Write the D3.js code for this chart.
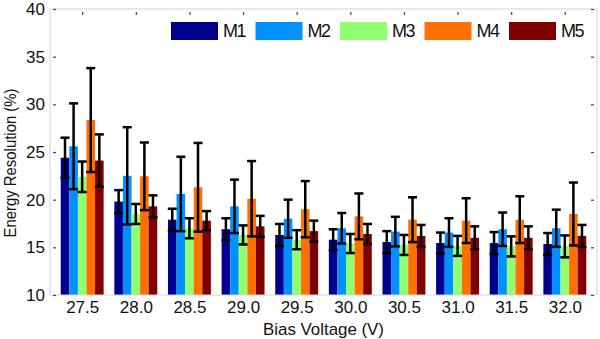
<!DOCTYPE html>
<html>
<head>
<meta charset="utf-8">
<script src="https://cdn.jsdelivr.net/npm/d3@7"></script>
<style>
  body { margin: 0; background: #fff; }
  text { font-family: "Liberation Sans", Arial, sans-serif; fill: #111; }
</style>
</head>
<body>
<svg id="chart"></svg>
<script>

/////////////////////////////////
// DATA
//////////////////////////////////

var voltages = ["27.5", "28.0", "28.5", "29.0", "29.5", "30.0", "30.5", "31.0", "31.5", "32.0"];
var modules = ["M1", "M2", "M3", "M4", "M5"];
var moduleColors = ["#00008f", "#0090ff", "#90ff70", "#ff7000", "#800000"];

// mean energy resolution (%) per module, one value per voltage
var m1 = [24.4, 19.8, 17.9, 16.9, 16.3, 15.8, 15.55, 15.45, 15.45, 15.35];
var m2 = [25.6, 22.5, 20.6, 19.3, 18.0, 17.0, 16.65, 16.55, 16.9, 17.0];
var m3 = [22.4, 18.5, 17.0, 16.3, 15.8, 15.4, 15.25, 15.15, 15.1, 15.1];
var m4 = [28.35, 22.45, 21.3, 20.1, 19.0, 18.25, 17.9, 17.8, 17.9, 18.5];
var m5 = [24.1, 19.3, 17.8, 17.2, 16.7, 16.4, 16.2, 16.0, 16.0, 16.2];

// half length of the error bars
var m1Err = [2.1, 1.2, 1.15, 1.15, 1.15, 1.1, 1.15, 1.1, 1.15, 1.15];
var m2Err = [4.5, 5.1, 3.9, 2.8, 2.0, 1.6, 1.55, 1.5, 1.75, 1.95];
var m3Err = [1.6, 1.05, 1.05, 1.0, 1.0, 1.0, 1.05, 1.05, 1.05, 1.15];
var m4Err = [5.45, 3.55, 4.65, 3.95, 2.95, 2.4, 2.35, 2.35, 2.45, 3.3];
var m5Err = [2.75, 1.15, 1.0, 1.1, 1.1, 1.05, 1.15, 1.2, 1.2, 1.15];

var yTicks = [10, 15, 20, 25, 30, 35, 40];

var means = [m1, m2, m3, m4, m5];
var errs = [m1Err, m2Err, m3Err, m4Err, m5Err];


/////////////////////////////////
// SET STATIC VARIABLES
//////////////////////////////////

var width = 600;
var height = 339;

var margin = { top: 9, right: 3, bottom: 44, left: 50 };

var chartWidth = width - margin.left - margin.right;
var chartHeight = height - margin.top - margin.bottom;

var svg = d3.select("#chart")
    .attr("width", width)
    .attr("height", height);

var g = svg.append("g")
    .attr("transform", "translate(" + margin.left + "," + margin.top + ")");


/////////////////////////////////
// MAKE SCALES
//////////////////////////////////

// groups sit like matlab bar() with xlim [0.4, 10.6]
var x = d3.scaleLinear()
    .domain([0.4, voltages.length + 0.6])
    .range([0, chartWidth]);

var groupWidth = x(1.8) - x(1);

var xSub = d3.scaleBand()
    .domain(modules)
    .range([-groupWidth / 2, groupWidth / 2]);

var y = d3.scaleLinear()
    .domain([10, 40])
    .range([chartHeight, 0]);


/////////////////////////////////
// DRAW BARS
//////////////////////////////////

var rows = [];
voltages.forEach(function(v, i) {
    modules.forEach(function(m, j) {
        rows.push({ pos: i + 1, module: m, color: moduleColors[j], value: means[j][i], err: errs[j][i] });
    });
});

g.selectAll(".bar")
    .data(rows)
    .enter().append("rect")
    .attr("class", "bar")
    .attr("x", function(d) { return x(d.pos) + xSub(d.module); })
    .attr("y", function(d) { return y(d.value); })
    .attr("width", xSub.bandwidth())
    .attr("height", function(d) { return chartHeight - y(d.value); })
    .attr("fill", function(d) { return d.color; });


/////////////////////////////////
// DRAW ERROR BARS
//////////////////////////////////

var errG = g.selectAll(".err")
    .data(rows)
    .enter().append("g")
    .attr("class", "err")
    .attr("transform", function(d) {
        return "translate(" + (x(d.pos) + xSub(d.module) + xSub.bandwidth() / 2) + ",0)";
    })
    .attr("stroke", "#000")
    .attr("stroke-width", 2.5);

errG.append("line")
    .attr("y1", function(d) { return y(d.value - d.err); })
    .attr("y2", function(d) { return y(d.value + d.err); });

errG.append("line")
    .attr("x1", -4.5).attr("x2", 4.5)
    .attr("y1", function(d) { return y(d.value + d.err); })
    .attr("y2", function(d) { return y(d.value + d.err); });

errG.append("line")
    .attr("x1", -4.5).attr("x2", 4.5)
    .attr("y1", function(d) { return y(d.value - d.err); })
    .attr("y2", function(d) { return y(d.value - d.err); });


/////////////////////////////////
// AXES + FRAME
//////////////////////////////////

g.append("rect")
    .attr("width", chartWidth)
    .attr("height", chartHeight)
    .attr("fill", "none")
    .attr("stroke", "#d4d4d4")
    .attr("stroke-width", 1);

var yAxis = g.append("g")
    .call(d3.axisLeft(y).tickValues(yTicks).tickSize(-3).tickPadding(5));
yAxis.select(".domain").remove();
yAxis.selectAll("line").attr("stroke", "#444").attr("stroke-width", 1.2).attr("transform", "translate(3,0)");
yAxis.selectAll("text")
    .attr("font-size", "17px")
    .attr("fill", "#111");

var yAxisRight = g.append("g")
    .attr("transform", "translate(" + chartWidth + ",0)")
    .call(d3.axisRight(y).tickValues(yTicks).tickSize(-3).tickFormat(""));
yAxisRight.select(".domain").remove();
yAxisRight.selectAll("line").attr("stroke", "#444").attr("stroke-width", 1.2).attr("transform", "translate(-3,0)");

var xTop = g.append("g")
    .call(d3.axisTop(x).tickValues(d3.range(1, voltages.length + 1)).tickSize(-3).tickFormat(""));
xTop.select(".domain").remove();
xTop.selectAll("line").attr("stroke", "#444").attr("stroke-width", 1.2).attr("transform", "translate(0,3)");

var xAxis = g.append("g")
    .attr("transform", "translate(0," + chartHeight + ")")
    .call(d3.axisBottom(x)
        .tickValues(d3.range(1, voltages.length + 1))
        .tickFormat(function(d) { return voltages[d - 1]; })
        .tickSize(0)
        .tickPadding(6));
xAxis.select(".domain").remove();
xAxis.selectAll("text")
    .attr("font-size", "17px")
    .attr("fill", "#111");


/////////////////////////////////
// AXIS TITLES
//////////////////////////////////

svg.append("text")
    .attr("x", margin.left + chartWidth / 2)
    .attr("y", 335)
    .attr("text-anchor", "middle")
    .attr("font-size", "17px")
    .attr("textLength", 121)
    .attr("lengthAdjust", "spacingAndGlyphs")
    .text("Bias Voltage (V)");

// the label in the picture is narrow and sits a bit low
svg.append("text")
    .attr("transform", "translate(16,163) rotate(-90)")
    .attr("text-anchor", "middle")
    .attr("font-size", "16.5px")
    .attr("textLength", 149)
    .attr("lengthAdjust", "spacingAndGlyphs")
    .text("Energy Resolution (%)");


/////////////////////////////////
// LEGEND
//////////////////////////////////

var legendX = d3.scalePoint()
    .domain(modules)
    .range([171, 509]);

var legend = svg.selectAll(".legend")
    .data(modules)
    .enter().append("g")
    .attr("class", "legend")
    .attr("transform", function(d) { return "translate(" + legendX(d) + ",22)"; });

legend.append("rect")
    .attr("width", 47)
    .attr("height", 18)
    .attr("fill", function(d, i) { return moduleColors[i]; });

legend.append("text")
    .attr("x", 52)
    .attr("y", 15)
    .attr("font-size", "18px")
    .attr("letter-spacing", "-1.5px")
    .text(function(d) { return d; });

</script>
</body>
</html>
